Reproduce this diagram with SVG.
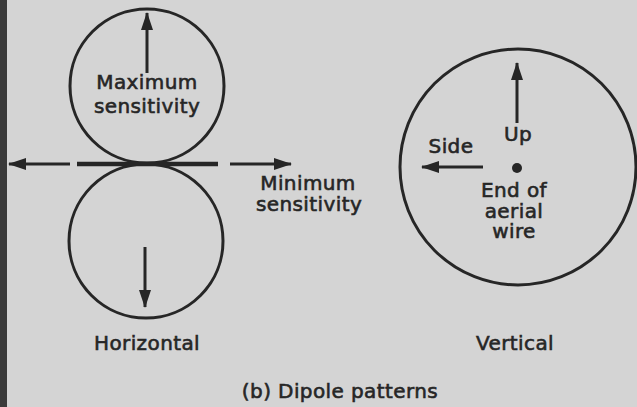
<svg xmlns="http://www.w3.org/2000/svg" width="637" height="407" viewBox="0 0 637 407">
<style>
.ln{fill:none;stroke:#262626;stroke-width:3}
.dash{fill:none;stroke:#262626;stroke-width:4.5}
.t{font-family:"DejaVu Sans","Liberation Sans",sans-serif;font-size:20px;fill:#262626;stroke:#262626;stroke-width:0.6px;text-anchor:middle;letter-spacing:0.4px}
</style>
<defs>
<marker id="ah" viewBox="0 0 18 12" refX="17" refY="6" markerWidth="18" markerHeight="12" markerUnits="userSpaceOnUse" orient="auto">
<path d="M0,0 L18,6 L0,12 Z" fill="#262626"/>
</marker>
</defs>
<rect width="637" height="407" fill="#d4d4d4"/>
<rect x="0" y="0" width="7" height="407" fill="#3a3a3a"/>
<g id="horizontal-top">
<circle class="ln" cx="147" cy="86" r="77"/>
<text class="t" x="147" y="89">Maximum</text>
<text class="t" x="147" y="113">sensitivity</text>
</g>
<g id="horizontal-bottom">
<circle class="ln" cx="146" cy="241" r="77"/>
</g>
<g id="min-label">
<text class="t" x="308" y="190">Minimum</text>
<text class="t" x="309" y="211">sensitivity</text>
</g>
<g id="horizontal-label">
<text class="t" x="147" y="350" font-size="21">Horizontal</text>
</g>
<g id="vertical">
<circle class="ln" cx="518" cy="167" r="118"/>
<circle cx="517" cy="168" r="5" fill="#262626"/>
<text class="t" x="518" y="141">Up</text>
<text class="t" x="451" y="153">Side</text>
<text class="t" x="514" y="197">End of</text>
<text class="t" x="514" y="218">aerial</text>
<text class="t" x="514" y="238">wire</text>
</g>
<g id="vertical-label">
<text class="t" x="515" y="350" font-size="21">Vertical</text>
</g>
<g id="caption">
<text class="t" x="340" y="398" font-size="21">(b) Dipole patterns</text>
</g>
<g id="connectors">
<line class="ln" x1="147" y1="73" x2="147" y2="13" marker-end="url(#ah)"/>
<line class="ln" x1="145" y1="247" x2="145" y2="307" marker-end="url(#ah)"/>
<line class="ln" x1="70" y1="164" x2="9" y2="164" marker-end="url(#ah)"/>
<line class="dash" x1="77" y1="164" x2="218" y2="164"/>
<line class="ln" x1="230" y1="164" x2="291" y2="164" marker-end="url(#ah)"/>
<line class="ln" x1="517" y1="123" x2="517" y2="63" marker-end="url(#ah)"/>
<line class="ln" x1="483" y1="167" x2="422" y2="167" marker-end="url(#ah)"/>
</g>
</svg>
